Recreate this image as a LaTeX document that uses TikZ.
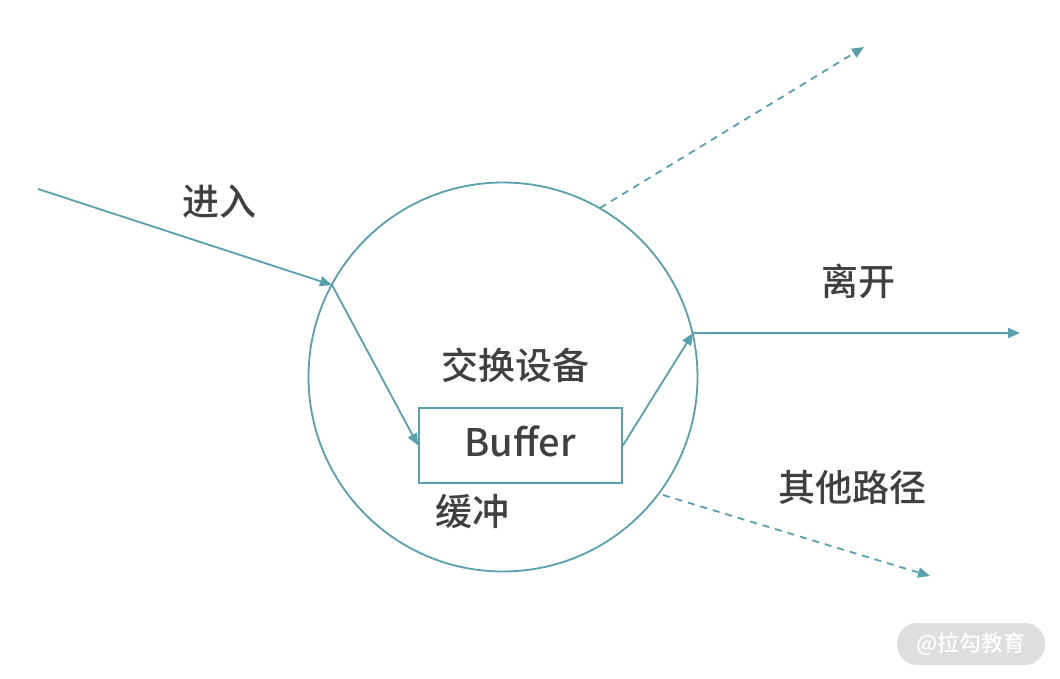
\documentclass[tikz,border=0pt]{standalone}
\usepackage{fontspec}
\newfontfamily\cjk{Noto Sans CJK SC}[UprightFont={* Medium}]
\usetikzlibrary{arrows.meta}
\definecolor{teal1}{RGB}{88,160,172}
\definecolor{txt}{RGB}{64,64,64}
\definecolor{mark1}{RGB}{222,222,222}

\begin{document}
\begin{tikzpicture}
	 [x=1pt,y=-1pt,every node/.style={font=\cjk\fontsize{37}{42}\selectfont,text=txt},
	  link/.style={draw=teal1,line width=1.8pt,-{Triangle[length=12pt,width=10pt]}},
	  dashlink/.style={link,dash pattern=on 7pt off 6pt}]

	  \useasboundingbox (0,0) rectangle (1060,679);

	  \node (dev) [circle,draw=teal1,line width=1.8pt,minimum size=389pt] at (503,377) {};
	  \node (buf) [draw=teal1,line width=1.8pt,minimum width=203pt,minimum height=75pt] at (520.5,445.5) {};
	  \node at (520,441) {\fontsize{38}{42}\selectfont Buffer};

	  \coordinate (in0) at (38,189);
	  \coordinate (in1) at (332,285);
	  \coordinate (out1) at (693,333);
	  \coordinate (out0) at (1020,333);
	  \coordinate (up0) at (600,208);
	  \coordinate (up1) at (864,47);
	  \coordinate (dn0) at (663,495);
	  \coordinate (dn1) at (930,576);

	\foreach \from/\to in {in0/in1,in1/buf.west,buf.east/out1,out1/out0}
    \draw[link] (\from) -- (\to);
	\foreach \from/\to in {up0/up1,dn0/dn1}
    \draw[dashlink] (\from) -- (\to);

	  \node (lin) at (219,202) {进入};
	  \node (lout) at (858,281) {离开};
	  \node (ldev) at (515,365) {交换设备};
	  \node (lbuf) at (472,511) {缓冲};
	  \node (loth) at (852,487) {其他路径};

   \node (wm) [fill=mark1,rounded corners=20pt,minimum width=148pt,minimum height=42pt,
     text=white,font=\cjk\fontsize{22}{26}\selectfont] at (971,644) {@拉勾教育};

\end{tikzpicture}
\end{document}
